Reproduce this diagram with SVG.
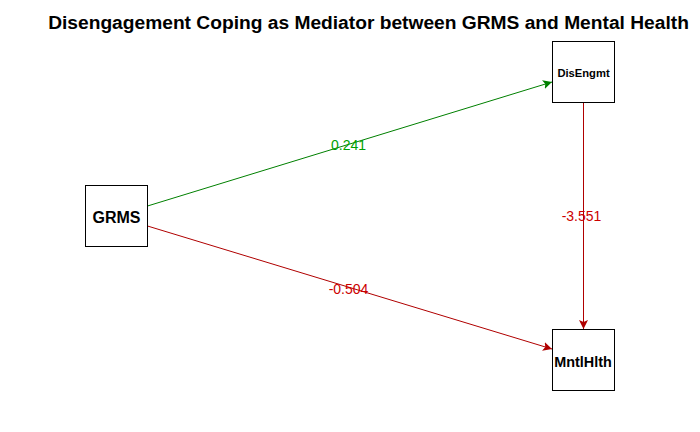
<svg xmlns="http://www.w3.org/2000/svg" width="700" height="432" viewBox="0 0 700 432">
<style>
.node rect{fill:#fff;stroke:#000;stroke-width:1}
.lbl{font-family:"Liberation Sans",Arial,sans-serif;font-weight:bold;text-anchor:middle;fill:#000}
.elbl{font-family:"Liberation Sans",Arial,sans-serif;font-size:14px;text-anchor:middle}
.g{stroke:#008000;stroke-width:1;fill:none}
.r{stroke:#b00000;stroke-width:1;fill:none}
</style>
<defs>
<marker id="ag" markerWidth="10" markerHeight="10" refX="9" refY="4.5" orient="auto" markerUnits="userSpaceOnUse"><path d="M0,0 L9,4.5 L0,9 L2,4.5 Z" fill="#008000"/></marker>
<marker id="ar" markerWidth="10" markerHeight="10" refX="9" refY="4.5" orient="auto" markerUnits="userSpaceOnUse"><path d="M0,0 L9,4.5 L0,9 L2,4.5 Z" fill="#b00000"/></marker>
</defs>
<rect width="700" height="432" fill="#fff"/>
<text x="368.5" y="29" font-family="'Liberation Sans',Arial,sans-serif" font-weight="bold" font-size="19.2" text-anchor="middle">Disengagement Coping as Mediator between GRMS and Mental Health</text>
<g id="connectors">
<line class="g" x1="147.5" y1="206" x2="552" y2="82" marker-end="url(#ag)"/>
<line class="r" x1="147.5" y1="226" x2="552" y2="349" marker-end="url(#ar)"/>
<line class="r" x1="583.5" y1="102.5" x2="583.5" y2="329" marker-end="url(#ar)"/>
<text class="elbl" x="348.5" y="150" fill="#00a000">0.241</text>
<text class="elbl" x="581.5" y="221" fill="#cc0000">-3.551</text>
<text class="elbl" x="348.5" y="294" fill="#cc0000">-0.504</text>
</g>
<g id="GRMS" class="node"><rect x="85.5" y="185.5" width="62" height="61"/><text class="lbl" x="116.5" y="223" font-size="16">GRMS</text></g>
<g id="DisEngmt" class="node"><rect x="552.5" y="41.5" width="62" height="61"/><text class="lbl" x="583.5" y="76.5" font-size="11.2">DisEngmt</text></g>
<g id="MntlHlth" class="node"><rect x="552.5" y="329.5" width="62" height="61"/><text class="lbl" x="583" y="366.5" font-size="14.4">MntlHlth</text></g>
</svg>
